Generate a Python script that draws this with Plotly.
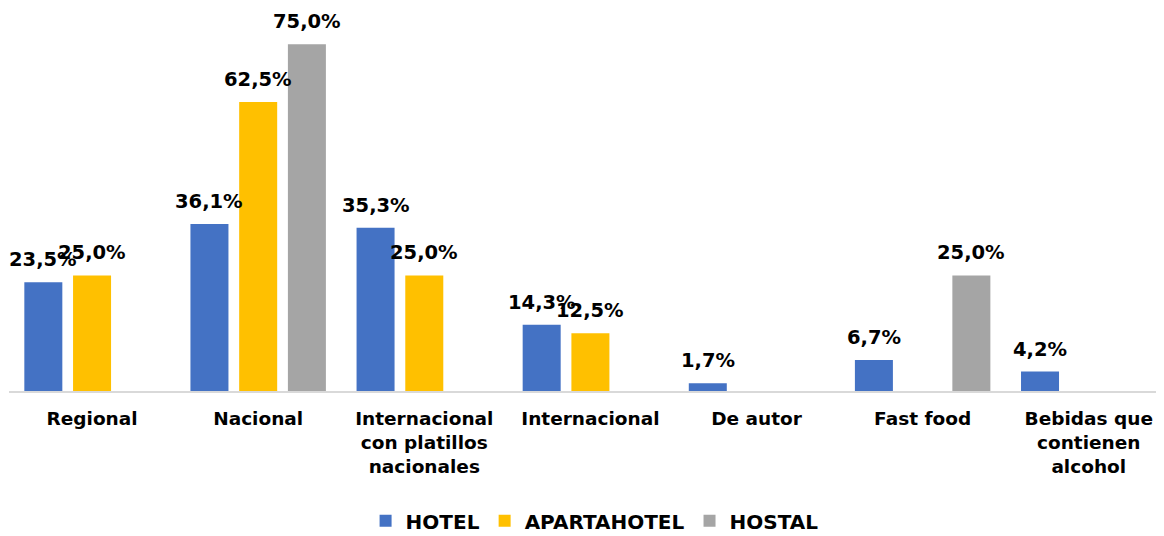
import plotly.graph_objects as go

categories = ["Regional", "Nacional", "Internacional<br>con platillos<br>nacionales",
              "Internacional", "De autor", "Fast food", "Bebidas que<br>contienen<br>alcohol"]
hotel = [23.5, 36.1, 35.3, 14.3, 1.7, 6.7, 4.2]
apartahotel = [25.0, 62.5, 25.0, 12.5, None, None, None]
hostal = [None, 75.0, None, None, None, 25.0, None]

series = [("HOTEL", hotel, "#4472C4"),
          ("APARTAHOTEL", apartahotel, "#FFC000"),
          ("HOSTAL", hostal, "#A5A5A5")]

FONT = "DejaVu Sans"
BARGAP = 0.12
slot = (1 - BARGAP) / len(series)

fig = go.Figure()
annotations = []
for k, (name, vals, color) in enumerate(series):
    fig.add_trace(go.Bar(
        x=list(range(len(categories))), y=vals, name="<b>" + name + "</b>",
        marker=dict(color=color, line=dict(width=0)),
    ))
    for i, v in enumerate(vals):
        if v is None:
            continue
        annotations.append(dict(
            x=i + (k - 1) * slot, y=v, xref="x", yref="y",
            text="<b>" + f"{v:.1f}".replace(".", ",") + "%</b>",
            showarrow=False, yanchor="bottom", xanchor="center", yshift=9,
            font=dict(family=FONT, size=19.5, color="#000000"),
        ))

fig.update_layout(
    width=1164, height=536,
    margin=dict(l=1, r=8, t=13, b=153),
    paper_bgcolor="white", plot_bgcolor="white",
    barmode="group", bargap=BARGAP, bargroupgap=0.22,
    annotations=annotations,
    showlegend=True,
    legend=dict(orientation="h", x=0.507, xanchor="center", y=-0.351, yanchor="middle",
                font=dict(family=FONT, size=20, color="#000000"),
                itemsizing="constant", traceorder="normal"),
    xaxis=dict(
        tickmode="array", tickvals=list(range(len(categories))),
        ticktext=["<b>" + c + "</b>" for c in categories],
        range=[-0.5, 6.453], showgrid=False, zeroline=False,
        showline=True, linecolor="#D9D9D9", linewidth=2, ticks="",
        ticklabelstandoff=10,
        tickfont=dict(family=FONT, size=18.5, color="#000000"),
        fixedrange=True,
    ),
    yaxis=dict(range=[0, 80], showgrid=False, zeroline=False, showticklabels=False,
               showline=False, fixedrange=True),
)

fig.write_html("out.html")
